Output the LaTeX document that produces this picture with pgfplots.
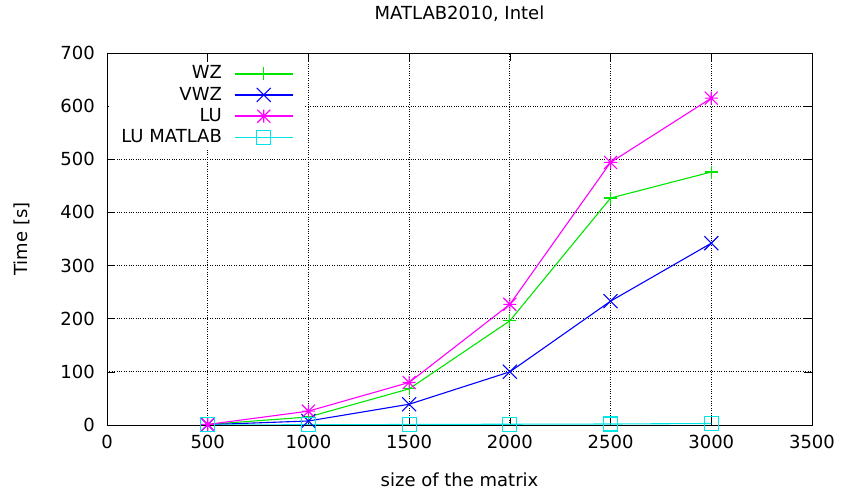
\documentclass[border=0pt]{standalone}
\usepackage{fontspec}
\setmainfont{DejaVu Sans}
\usepackage{pgfplots}
\pgfplotsset{compat=1.18}

\definecolor{gpgreen}{RGB}{0,230,0}
\definecolor{gpblue}{RGB}{0,0,255}
\definecolor{gpmagenta}{RGB}{255,0,255}
\definecolor{gpcyan}{RGB}{0,230,230}

% gnuplot-like point types
\pgfdeclareplotmark{gpplus}{%
  \pgfpathmoveto{\pgfqpoint{-\pgfplotmarksize}{0pt}}\pgfpathlineto{\pgfqpoint{\pgfplotmarksize}{0pt}}%
  \pgfpathmoveto{\pgfqpoint{0pt}{-\pgfplotmarksize}}\pgfpathlineto{\pgfqpoint{0pt}{\pgfplotmarksize}}%
  \pgfusepathqstroke}
\pgfdeclareplotmark{gpcross}{%
  \pgfpathmoveto{\pgfqpoint{-\pgfplotmarksize}{-\pgfplotmarksize}}\pgfpathlineto{\pgfqpoint{\pgfplotmarksize}{\pgfplotmarksize}}%
  \pgfpathmoveto{\pgfqpoint{-\pgfplotmarksize}{\pgfplotmarksize}}\pgfpathlineto{\pgfqpoint{\pgfplotmarksize}{-\pgfplotmarksize}}%
  \pgfusepathqstroke}
\pgfdeclareplotmark{gpstar}{%
  \pgfpathmoveto{\pgfqpoint{-\pgfplotmarksize}{0pt}}\pgfpathlineto{\pgfqpoint{\pgfplotmarksize}{0pt}}%
  \pgfpathmoveto{\pgfqpoint{0pt}{-\pgfplotmarksize}}\pgfpathlineto{\pgfqpoint{0pt}{\pgfplotmarksize}}%
  \pgfpathmoveto{\pgfqpoint{-\pgfplotmarksize}{-\pgfplotmarksize}}\pgfpathlineto{\pgfqpoint{\pgfplotmarksize}{\pgfplotmarksize}}%
  \pgfpathmoveto{\pgfqpoint{-\pgfplotmarksize}{\pgfplotmarksize}}\pgfpathlineto{\pgfqpoint{\pgfplotmarksize}{-\pgfplotmarksize}}%
  \pgfusepathqstroke}

\pgfplotsset{
  gpline/.style={
    draw=#1, line width=1.1bp, mark options={draw=#1, fill=none, line width=1.1bp},
    legend image code/.code={%
      \draw[#1, line width=1.8bp] (0bp,0bp) -- (58bp,0bp);
      \draw[#1, line width=1.4bp] plot coordinates {(29bp,0bp)};},
  },
}

\begin{document}
\fontsize{18bp}{21bp}\selectfont
\begin{tikzpicture}
\path (-107bp,-69bp) rectangle (736bp,424bp);
\begin{axis}[
  at={(0,0)}, anchor=south west,
  scale only axis, width=705bp, height=372bp,
  xmin=0, xmax=3500, ymin=0, ymax=700,
  xtick={0,500,...,3500}, ytick={0,100,...,700},
  tick align=inside, major tick length=8bp,
  xtick pos=both, ytick pos=both,
  grid=major,
  major grid style={black, dotted, line width=0.8pt},
  axis line style={line width=0.8pt},
  every tick/.style={black, line width=0.6pt},
  /pgf/number format/assume math mode=true,
  /pgf/number format/set thousands separator={},
  ticklabel style={font=\fontsize{18bp}{21bp}\selectfont},
  xticklabel style={yshift=-4bp},
  yticklabel style={xshift=-6bp},
  title={MATLAB2010, Intel},
  title style={at={(axis description cs:0.5,1.089)}, anchor=center, font=\fontsize{18bp}{21bp}\selectfont},
  xlabel={size of the matrix},
  xlabel style={at={(axis description cs:0.5,-0.148)}, anchor=center},
  ylabel={Time [s]},
  ylabel style={at={(axis description cs:-0.1206,0.5)}, anchor=center},
  legend plot pos=right,
  legend cell align=right,
  legend style={draw=none, fill=white, at={(axis description cs:0.003,0.977)}, anchor=north west,
    row sep=1.5bp, column sep=10bp, inner xsep=10bp, inner ysep=2bp,
    font=\fontsize{18bp}{21bp}\selectfont},
]
\addplot[gpline=gpgreen, mark=gpplus, mark size=6.5bp] coordinates {
  (500,1) (1000,15) (1500,68) (2000,196) (2500,427) (3000,476)};
\addlegendentry{WZ}
\addplot[gpline=gpblue, mark=gpcross, mark size=7bp] coordinates {
  (500,0.5) (1000,7.5) (1500,39) (2000,100) (2500,233) (3000,342)};
\addlegendentry{VWZ}
\addplot[gpline=gpmagenta, mark=gpstar, mark size=6.5bp] coordinates {
  (500,1) (1000,26) (1500,80) (2000,227) (2500,494) (3000,615)};
\addlegendentry{LU}
\addplot[gpline=gpcyan, mark=square, mark size=7bp] coordinates {
  (500,0.1) (1000,0.4) (1500,0.9) (2000,1.4) (2500,1.8) (3000,2.8)};
\addlegendentry{LU MATLAB}
\end{axis}
\end{tikzpicture}
\end{document}
